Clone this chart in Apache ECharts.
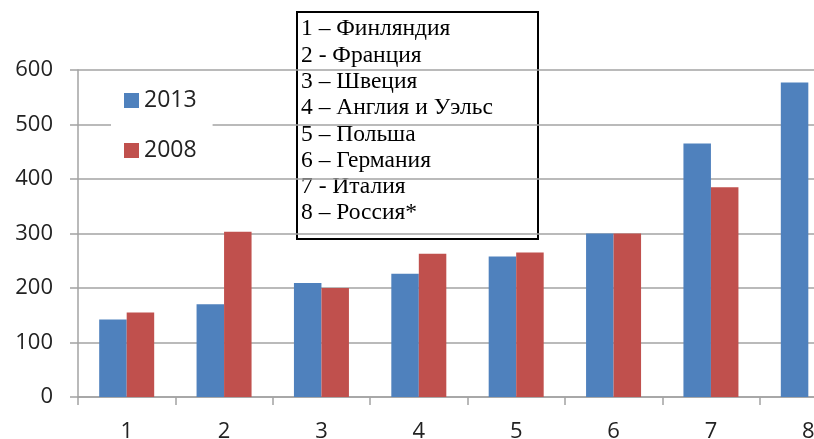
<!DOCTYPE html>
<html>
<head>
    <meta charset="utf-8">
    <title>2013 / 2008</title>
    <script type="text/javascript" src="https://cdn.jsdelivr.net/npm/echarts@6/dist/echarts.min.js"></script>
    <style>
        html, body { margin: 0; padding: 0; background: #fff; }
    </style>
</head>
<body>
    <div id="main" style="width:814px;height:439px;"></div>
    <script type="text/javascript">
        // данные
        var categories = ['1', '2', '3', '4', '5', '6', '7', '8'];
        var seriesNames = ['2013', '2008'];
        var values2013 = [142, 170, 209, 226, 258, 300, 465, 577];
        var values2008 = [155, 303, 200, 263, 265, 300, 385, null];
        var countries = [
            '1 – Финляндия',
            '2 - Франция',
            '3 – Швеция',
            '4 – Англия и Уэльс',
            '5 – Польша',
            '6 – Германия',
            '7 - Италия',
            '8 – Россия*'
        ];

        var gridColor = '#a3a3a3';
        var labelFont = '"Open Sans", "DejaVu Sans", sans-serif';

        var myChart = echarts.init(document.getElementById('main'));

        var option = {
            animation: false,
            backgroundColor: '#fff',
            color: ['#4f81bd', '#c0504d'],
            grid: {
                left: 78,
                top: 70,
                bottom: 42,
                right: -43,
                containLabel: false,
                outerBoundsMode: 'none'
            },
            legend: {
                orient: 'vertical',
                left: 111,
                top: 81,
                data: seriesNames,
                itemWidth: 15,
                itemHeight: 15,
                itemGap: 27,
                icon: 'rect',
                padding: [8, 16, 8, 13],
                backgroundColor: '#fff',
                textStyle: { fontSize: 23, color: '#222', fontFamily: labelFont }
            },
            xAxis: {
                type: 'category',
                data: categories,
                axisLine: { lineStyle: { color: gridColor, width: 1.5 } },
                axisTick: { show: true, length: 8, lineStyle: { color: gridColor, width: 1.5 } },
                axisLabel: { margin: 24, fontSize: 22, color: '#222', fontFamily: labelFont }
            },
            yAxis: {
                type: 'value',
                min: 0,
                max: 600,
                interval: 100,
                axisLine: { show: true, lineStyle: { color: gridColor, width: 1.5 } },
                axisTick: { show: true, length: 8, lineStyle: { color: gridColor, width: 1.5 } },
                splitLine: { lineStyle: { color: gridColor, width: 1.5 } },
                axisLabel: { margin: 25, fontSize: 22, color: '#222', fontFamily: labelFont }
            },
            series: [
                {
                    name: seriesNames[0],
                    type: 'bar',
                    data: values2013,
                    barWidth: 27.5,
                    barGap: '0%'
                },
                {
                    name: seriesNames[1],
                    type: 'bar',
                    data: values2008,
                    barWidth: 27.5,
                    barGap: '0%'
                }
            ],
            graphic: [
                {
                    type: 'group',
                    left: 296,
                    top: 11,
                    z: 100,
                    children: [
                        {
                            type: 'rect',
                            shape: { x: 0, y: 0, width: 241, height: 227 },
                            style: { fill: '#fff', stroke: '#000', lineWidth: 2 }
                        },
                        {
                            type: 'text',
                            x: 4,
                            y: 4,
                            style: {
                                text: countries.join('\n'),
                                font: '23.5px "Liberation Serif", "DejaVu Serif", serif',
                                lineHeight: 26.3,
                                fill: '#000'
                            }
                        }
                    ]
                }
            ]
        };

        myChart.setOption(option);
    </script>
</body>
</html>
